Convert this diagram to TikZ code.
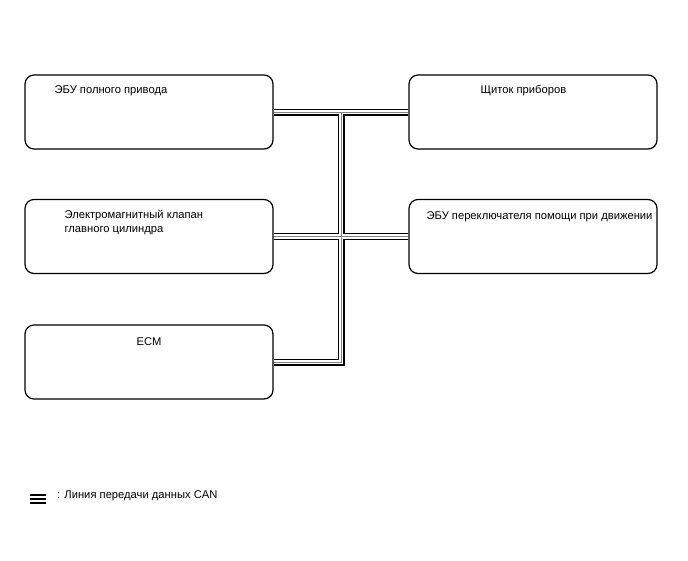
\documentclass[tikz,border=0pt]{standalone}
\usepackage{fontspec}
\setmainfont{Liberation Sans}
\usetikzlibrary{positioning, calc}

\begin{document}
\begin{tikzpicture}[
    x=1pt, y=-1pt,
    font=\fontsize{11.2}{14}\selectfont,
    ecu/.style={draw, line width=1.2pt, rounded corners=9pt, minimum width=248pt, minimum height=74pt, inner sep=0pt},
    txt/.style={anchor=west, align=left, inner sep=0pt}
]
\useasboundingbox (0,0) rectangle (688,560);

% ===== BLOCKS =====
\node[ecu] (AWD) at (149,112) {};
\node[ecu] (COMB) at (533,112) {};
\node[ecu] (MCYL) at (149,236.5) {};
\node[ecu] (DRV) at (533,236.5) {};
\node[ecu] (ECM) at (149,362) {};

\node[txt] (AWDt) at ([xshift=30pt, yshift=-16.5pt]AWD.north west) {ЭБУ полного привода};
\node[txt] (COMBt) at ([xshift=72pt, yshift=-16.5pt]COMB.north west) {Щиток приборов};
\node[txt] (MCYLt) at ([xshift=40pt, yshift=-23.5pt]MCYL.north west) {Электромагнитный клапан\\главного цилиндра};
\node[txt] (DRVt) at ([xshift=18pt, yshift=-18pt]DRV.north west) {ЭБУ переключателя помощи при движении};
\node[txt] (ECMt) at ([xshift=112pt, yshift=-17pt]ECM.north west) {ECM};

% ===== CAN BUS =====
\coordinate (BUS) at (341,0);
\foreach \w/\c in {7/black, 4.4/white, 1/gray} {
  \draw[line width=\w pt, \c, line join=miter] (AWD.east) -- (COMB.west);
  \draw[line width=\w pt, \c, line join=miter] (MCYL.east) -- (DRV.west);
  \draw[line width=\w pt, \c, line join=miter] (ECM.east) -| (BUS |- AWD.east);
}

% ===== LEGEND =====
\coordinate (LEG) at (30,495);
\foreach \d in {0,4,8}
  \draw[line width=1.8pt] ([yshift=-\d pt]LEG) -- ++(16,0);
\node[txt] (LEGt) at (57,495.5) {: Линия передачи данных CAN};

\end{tikzpicture}
\end{document}
